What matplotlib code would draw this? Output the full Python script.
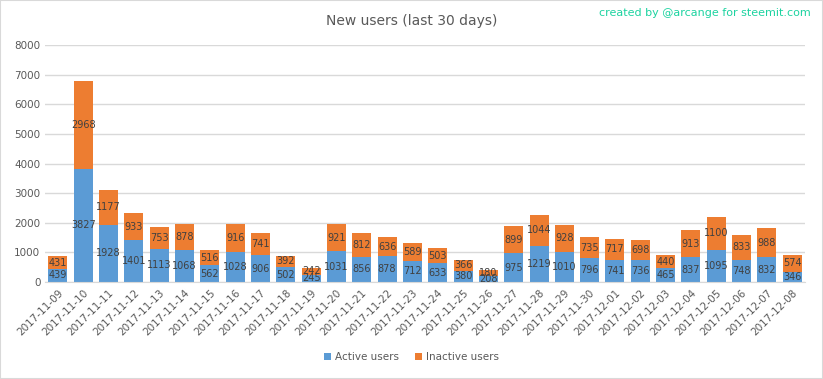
import numpy as np
import matplotlib.pyplot as plt

dates = ['2017-11-09', '2017-11-10', '2017-11-11', '2017-11-12', '2017-11-13', '2017-11-14',
         '2017-11-15', '2017-11-16', '2017-11-17', '2017-11-18', '2017-11-19', '2017-11-20',
         '2017-11-21', '2017-11-22', '2017-11-23', '2017-11-24', '2017-11-25', '2017-11-26',
         '2017-11-27', '2017-11-28', '2017-11-29', '2017-11-30', '2017-12-01', '2017-12-02',
         '2017-12-03', '2017-12-04', '2017-12-05', '2017-12-06', '2017-12-07', '2017-12-08']
active = [439, 3827, 1928, 1401, 1113, 1068, 562, 1028, 906, 502, 245, 1031, 856, 878, 712,
          633, 380, 208, 975, 1219, 1010, 796, 741, 736, 465, 837, 1095, 748, 832, 346]
inactive = [431, 2968, 1177, 933, 753, 878, 516, 916, 741, 392, 242, 921, 812, 636, 589,
            503, 366, 180, 899, 1044, 928, 735, 717, 698, 440, 913, 1100, 833, 988, 574]

blue = '#5B9BD5'
orange = '#ED7D31'
txt = '#595959'

fig = plt.figure(figsize=(8.23, 3.79), dpi=100)
ax = fig.add_axes([0.055, 0.256, 0.923, 0.625])

x = np.arange(len(dates))
b1 = ax.bar(x, active, width=0.75, color=blue, label='Active users', zorder=2)
b2 = ax.bar(x, inactive, width=0.75, bottom=active, color=orange, label='Inactive users', zorder=2)

for i in range(len(dates)):
    ax.text(x[i], active[i] / 2, str(active[i]), ha='center', va='center', fontsize=7, color='#404040', zorder=3)
    ax.text(x[i], active[i] + inactive[i] / 2, str(inactive[i]), ha='center', va='center', fontsize=7, color='#404040', zorder=3)

ax.set_xlim(-0.5, len(dates) - 0.5)
ax.set_ylim(0, 8000)
ax.set_yticks(range(0, 8001, 1000))
ax.yaxis.grid(True, color='#D9D9D9', linewidth=1, zorder=0)
ax.set_xticks(x)
ax.set_xticklabels(dates, rotation=45, ha='right', rotation_mode='anchor', fontsize=7.5, color=txt)
ax.tick_params(axis='y', labelsize=7.5, colors=txt, length=0)
ax.tick_params(axis='x', length=0, pad=4)
for s in ['top', 'right', 'left']:
    ax.spines[s].set_visible(False)
ax.spines['bottom'].set_color('#D9D9D9')

fig.text(0.5, 0.945, 'New users (last 30 days)', ha='center', va='center', fontsize=10, color=txt)
fig.text(0.985, 0.965, 'created by @arcange for steemit.com', ha='right', va='center', fontsize=8, color='#1CD3A0')

fig.legend(handles=[b1, b2], loc='center', bbox_to_anchor=(0.5, 0.058), ncol=2, frameon=False,
           fontsize=7.5, handlelength=0.7, handleheight=0.7, columnspacing=1.5, handletextpad=0.4,
           labelcolor=txt)

fig.patches.append(plt.Rectangle((0, 0), 1, 1, transform=fig.transFigure, fill=False,
                                 edgecolor='#D9D9D9', linewidth=1.5))

fig.savefig('out.png', dpi=100)
